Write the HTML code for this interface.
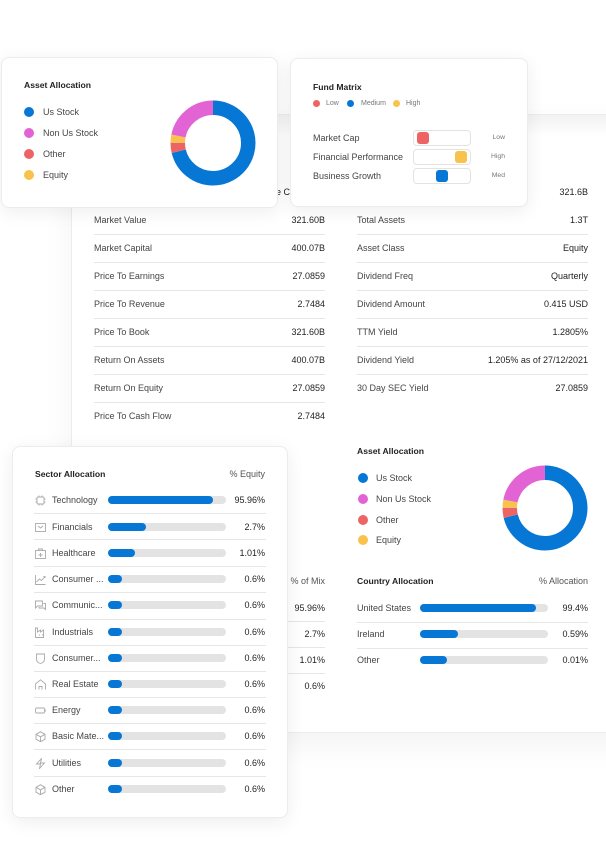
<!DOCTYPE html>
<html><head><meta charset="utf-8">
<style>
*{margin:0;padding:0;box-sizing:border-box}
html,body{width:606px;height:867px;background:#fff;overflow:hidden}
body{position:relative;font-family:"Liberation Sans",Arial,sans-serif;color:#3c3c3c}
.a{position:absolute}
.t{position:absolute;white-space:nowrap;line-height:12px;font-size:9px;color:#454545}
.v{position:absolute;white-space:nowrap;line-height:12px;font-size:9px;color:#1f1f1f;text-align:right}
.h{position:absolute;white-space:nowrap;line-height:12px;font-size:8.6px;font-weight:bold;color:#222}
.card{position:absolute;background:#fff;border:1px solid #ececec;border-radius:8px;box-shadow:0 4px 18px rgba(0,0,0,0.07)}
.ln{position:absolute;height:1px;background:#e6e6e6}
.dot{position:absolute;width:10px;height:10px;border-radius:50%}
.bar{position:absolute;height:8px;border-radius:4px;background:#e3e3e3}
.fill{position:absolute;left:0;top:0;height:8px;border-radius:4px;background:#0777d5}
.ic{position:absolute;width:11px;height:11px}
</style></head><body>

<!-- background card -->
<div class="a" style="left:71px;top:114px;width:560px;height:619px;background:linear-gradient(#f2f2f2,#fff 22px);border:1px solid #ececec;box-shadow:0 12px 30px rgba(0,0,0,0.05)"></div>

<!-- left column -->
<div class="v" style="right:316px;top:186px">Share Price C</div>
<div class="t" style="left:94px;top:214px">Market Value</div><div class="v" style="right:281px;top:214px">321.60B</div>
<div class="ln" style="left:94px;width:231px;top:234px"></div>
<div class="t" style="left:94px;top:242px">Market Capital</div><div class="v" style="right:281px;top:242px">400.07B</div>
<div class="ln" style="left:94px;width:231px;top:262px"></div>
<div class="t" style="left:94px;top:270px">Price To Earnings</div><div class="v" style="right:281px;top:270px">27.0859</div>
<div class="ln" style="left:94px;width:231px;top:290px"></div>
<div class="t" style="left:94px;top:298px">Price To Revenue</div><div class="v" style="right:281px;top:298px">2.7484</div>
<div class="ln" style="left:94px;width:231px;top:318px"></div>
<div class="t" style="left:94px;top:326px">Price To Book</div><div class="v" style="right:281px;top:326px">321.60B</div>
<div class="ln" style="left:94px;width:231px;top:346px"></div>
<div class="t" style="left:94px;top:354px">Return On Assets</div><div class="v" style="right:281px;top:354px">400.07B</div>
<div class="ln" style="left:94px;width:231px;top:374px"></div>
<div class="t" style="left:94px;top:382px">Return On Equity</div><div class="v" style="right:281px;top:382px">27.0859</div>
<div class="ln" style="left:94px;width:231px;top:402px"></div>
<div class="t" style="left:94px;top:410px">Price To Cash Flow</div><div class="v" style="right:281px;top:410px">2.7484</div>

<!-- right column -->
<div class="t" style="left:357px;top:186px">Net Assets</div><div class="v" style="right:18px;top:186px">321.6B</div>
<div class="t" style="left:357px;top:214px">Total Assets</div><div class="v" style="right:18px;top:214px">1.3T</div>
<div class="ln" style="left:357px;width:231px;top:234px"></div>
<div class="t" style="left:357px;top:242px">Asset Class</div><div class="v" style="right:18px;top:242px">Equity</div>
<div class="ln" style="left:357px;width:231px;top:262px"></div>
<div class="t" style="left:357px;top:270px">Dividend Freq</div><div class="v" style="right:18px;top:270px">Quarterly</div>
<div class="ln" style="left:357px;width:231px;top:290px"></div>
<div class="t" style="left:357px;top:298px">Dividend Amount</div><div class="v" style="right:18px;top:298px">0.415 USD</div>
<div class="ln" style="left:357px;width:231px;top:318px"></div>
<div class="t" style="left:357px;top:326px">TTM Yield</div><div class="v" style="right:18px;top:326px">1.2805%</div>
<div class="ln" style="left:357px;width:231px;top:346px"></div>
<div class="t" style="left:357px;top:354px">Dividend Yield</div><div class="v" style="right:18px;top:354px">1.205% as of 27/12/2021</div>
<div class="ln" style="left:357px;width:231px;top:374px"></div>
<div class="t" style="left:357px;top:382px">30 Day SEC Yield</div><div class="v" style="right:18px;top:382px">27.0859</div>

<!-- asset allocation 2 -->
<div class="h" style="left:357px;top:445px">Asset Allocation</div>
<div class="dot" style="left:358px;top:473px;background:#0777d5"></div><div class="t" style="left:376px;top:472px">Us Stock</div>
<div class="dot" style="left:358px;top:494px;background:#e263d3"></div><div class="t" style="left:376px;top:493px">Non Us Stock</div>
<div class="dot" style="left:358px;top:515px;background:#ec6464"></div><div class="t" style="left:376px;top:514px">Other</div>
<div class="dot" style="left:358px;top:535px;background:#f8c24c"></div><div class="t" style="left:376px;top:534px">Equity</div>
<svg class="a" style="left:500px;top:463px" width="90" height="90" viewBox="0 0 90 90">
<g transform="rotate(-90 45 45)" fill="none" stroke-width="14.5">
<circle cx="45" cy="45" r="35.25" stroke="#0777d5" stroke-dasharray="157.5 221.5"/>
<circle cx="45" cy="45" r="35.25" stroke="#ec6464" stroke-dasharray="8.6 221.5" stroke-dashoffset="-157.5"/>
<circle cx="45" cy="45" r="35.25" stroke="#f8c24c" stroke-dasharray="6.8 221.5" stroke-dashoffset="-166.1"/>
<circle cx="45" cy="45" r="35.25" stroke="#e263d3" stroke-dasharray="48.6 221.5" stroke-dashoffset="-172.9"/>
</g></svg>

<!-- % of mix -->
<div class="v" style="right:281px;top:575px;color:#555">% of Mix</div>
<div class="v" style="right:281px;top:602px">95.96%</div>
<div class="ln" style="left:94px;width:231px;top:621px"></div>
<div class="v" style="right:281px;top:628px">2.7%</div>
<div class="ln" style="left:94px;width:231px;top:647px"></div>
<div class="v" style="right:281px;top:654px">1.01%</div>
<div class="ln" style="left:94px;width:231px;top:673px"></div>
<div class="v" style="right:281px;top:680px">0.6%</div>

<!-- country allocation -->
<div class="h" style="left:357px;top:575px">Country Allocation</div>
<div class="v" style="right:18px;top:575px;color:#555">% Allocation</div>
<div class="t" style="left:357px;top:602px">United States</div>
<div class="bar" style="left:420px;top:604px;width:128px"><div class="fill" style="width:116px"></div></div>
<div class="v" style="right:18px;top:602px">99.4%</div>
<div class="ln" style="left:357px;width:231px;top:622px"></div>
<div class="t" style="left:357px;top:628px">Ireland</div>
<div class="bar" style="left:420px;top:630px;width:128px"><div class="fill" style="width:38px"></div></div>
<div class="v" style="right:18px;top:628px">0.59%</div>
<div class="ln" style="left:357px;width:231px;top:648px"></div>
<div class="t" style="left:357px;top:654px">Other</div>
<div class="bar" style="left:420px;top:656px;width:128px"><div class="fill" style="width:27px"></div></div>
<div class="v" style="right:18px;top:654px">0.01%</div>

<!-- Card 1 -->
<div class="card" style="left:1px;top:57px;width:277px;height:151px"></div>
<div class="h" style="left:24px;top:79px">Asset Allocation</div>
<div class="dot" style="left:24px;top:107px;background:#0777d5"></div><div class="t" style="left:43px;top:106px">Us Stock</div>
<div class="dot" style="left:24px;top:128px;background:#e263d3"></div><div class="t" style="left:43px;top:127px">Non Us Stock</div>
<div class="dot" style="left:24px;top:149px;background:#ec6464"></div><div class="t" style="left:43px;top:148px">Other</div>
<div class="dot" style="left:24px;top:170px;background:#f8c24c"></div><div class="t" style="left:43px;top:169px">Equity</div>
<svg class="a" style="left:168px;top:97.5px" width="90" height="90" viewBox="0 0 90 90">
<g transform="rotate(-90 45 45)" fill="none" stroke-width="14.5">
<circle cx="45" cy="45" r="35.25" stroke="#0777d5" stroke-dasharray="157.5 221.5"/>
<circle cx="45" cy="45" r="35.25" stroke="#ec6464" stroke-dasharray="8.6 221.5" stroke-dashoffset="-157.5"/>
<circle cx="45" cy="45" r="35.25" stroke="#f8c24c" stroke-dasharray="6.8 221.5" stroke-dashoffset="-166.1"/>
<circle cx="45" cy="45" r="35.25" stroke="#e263d3" stroke-dasharray="48.6 221.5" stroke-dashoffset="-172.9"/>
</g></svg>

<!-- Card 2 -->
<div class="card" style="left:290px;top:58px;width:238px;height:149px"></div>
<div class="h" style="left:313px;top:81px">Fund Matrix</div>
<div class="a" style="left:313px;top:100px;width:7px;height:7px;border-radius:50%;background:#ec6464"></div>
<div class="t" style="left:326px;top:98px;font-size:7px;color:#777">Low</div>
<div class="a" style="left:347px;top:100px;width:7px;height:7px;border-radius:50%;background:#0777d5"></div>
<div class="t" style="left:361px;top:98px;font-size:7px;color:#777">Medium</div>
<div class="a" style="left:393px;top:100px;width:7px;height:7px;border-radius:50%;background:#f8c24c"></div>
<div class="t" style="left:406px;top:98px;font-size:7px;color:#777">High</div>
<div class="t" style="left:313px;top:132px">Market Cap</div>
<div class="t" style="left:313px;top:151px">Financial Performance</div>
<div class="t" style="left:313px;top:170px">Business Growth</div>
<div class="a" style="left:413px;top:130px;width:58px;height:16px;border:1px solid #e3e3e3;border-radius:4px"></div>
<div class="a" style="left:417px;top:132px;width:12px;height:12px;border-radius:3px;background:#ec6464"></div>
<div class="a" style="left:413px;top:149px;width:58px;height:16px;border:1px solid #e3e3e3;border-radius:4px"></div>
<div class="a" style="left:455px;top:151px;width:12px;height:12px;border-radius:3px;background:#f8c24c"></div>
<div class="a" style="left:413px;top:168px;width:58px;height:16px;border:1px solid #e3e3e3;border-radius:4px"></div>
<div class="a" style="left:436px;top:170px;width:12px;height:12px;border-radius:3px;background:#0777d5"></div>
<div class="v" style="right:101px;top:132px;font-size:6.8px;color:#777">Low</div>
<div class="v" style="right:101px;top:151px;font-size:6.8px;color:#777">High</div>
<div class="v" style="right:101px;top:170px;font-size:6.8px;color:#777">Med</div>

<!-- Card 3 sector -->
<div class="card" style="left:12px;top:446px;width:276px;height:372px"></div>
<div class="h" style="left:35px;top:468px">Sector Allocation</div>
<div class="v" style="right:341px;top:468px;color:#555">% Equity</div>

<!-- rows -->
<svg class="ic" style="left:35px;top:494.5px" viewBox="0 0 11 11" fill="none" stroke="#aaa" stroke-width="0.9"><rect x="2" y="2" width="7" height="7" rx="1"/><path d="M4 0.5v1.5M7 0.5v1.5M4 9v1.5M7 9v1.5M0.5 4h1.5M0.5 7h1.5M9 4h1.5M9 7h1.5"/></svg>
<div class="t" style="left:52px;top:494px">Technology</div>
<div class="bar" style="left:108px;top:496px;width:118px"><div class="fill" style="width:105px"></div></div>
<div class="v" style="right:341px;top:494px">95.96%</div>
<div class="ln" style="left:34px;width:232px;top:513px"></div>

<svg class="ic" style="left:35px;top:521.5px" viewBox="0 0 11 11" fill="none" stroke="#aaa" stroke-width="0.9"><rect x="0.5" y="1.5" width="10" height="8"/><path d="M3 4l2.5 2 2.5-2"/></svg>
<div class="t" style="left:52px;top:521px">Financials</div>
<div class="bar" style="left:108px;top:523px;width:118px"><div class="fill" style="width:38px"></div></div>
<div class="v" style="right:341px;top:521px">2.7%</div>
<div class="ln" style="left:34px;width:232px;top:539px"></div>

<svg class="ic" style="left:35px;top:547.5px" viewBox="0 0 11 11" fill="none" stroke="#aaa" stroke-width="0.9"><rect x="0.5" y="2.5" width="10" height="8"/><path d="M3.5 2.5V1h4v1.5M5.5 5v4M3.5 7h4"/></svg>
<div class="t" style="left:52px;top:547px">Healthcare</div>
<div class="bar" style="left:108px;top:549px;width:118px"><div class="fill" style="width:27px"></div></div>
<div class="v" style="right:341px;top:547px">1.01%</div>
<div class="ln" style="left:34px;width:232px;top:566px"></div>

<svg class="ic" style="left:35px;top:573.5px" viewBox="0 0 11 11" fill="none" stroke="#aaa" stroke-width="0.9"><path d="M0.5 1v9.5h10M1.5 8l3-3 2 1.5 3.5-4M8.5 2.5h1.5V4"/></svg>
<div class="t" style="left:52px;top:573px">Consumer ...</div>
<div class="bar" style="left:108px;top:575px;width:118px"><div class="fill" style="width:14px"></div></div>
<div class="v" style="right:341px;top:573px">0.6%</div>
<div class="ln" style="left:34px;width:232px;top:592px"></div>

<svg class="ic" style="left:35px;top:599.5px" viewBox="0 0 11 11" fill="none" stroke="#aaa" stroke-width="0.9"><path d="M0.5 1h7v5h-5l-2 2zM8.5 3.5h2v6l-1.5-1.5h-5V7"/></svg>
<div class="t" style="left:52px;top:599px">Communic...</div>
<div class="bar" style="left:108px;top:601px;width:118px"><div class="fill" style="width:14px"></div></div>
<div class="v" style="right:341px;top:599px">0.6%</div>
<div class="ln" style="left:34px;width:232px;top:619px"></div>

<svg class="ic" style="left:35px;top:626.5px" viewBox="0 0 11 11" fill="none" stroke="#aaa" stroke-width="0.9"><path d="M0.5 10.5V1h2v4l3-2v2l3-2v7.5zM4 8h1M7 8h1"/></svg>
<div class="t" style="left:52px;top:626px">Industrials</div>
<div class="bar" style="left:108px;top:628px;width:118px"><div class="fill" style="width:14px"></div></div>
<div class="v" style="right:341px;top:626px">0.6%</div>
<div class="ln" style="left:34px;width:232px;top:645px"></div>

<svg class="ic" style="left:35px;top:652.5px" viewBox="0 0 11 11" fill="none" stroke="#aaa" stroke-width="0.9"><path d="M1.5 1h8v5c0 2.5-2 4-4 4.5-2-.5-4-2-4-4.5z"/></svg>
<div class="t" style="left:52px;top:652px">Consumer...</div>
<div class="bar" style="left:108px;top:654px;width:118px"><div class="fill" style="width:14px"></div></div>
<div class="v" style="right:341px;top:652px">0.6%</div>
<div class="ln" style="left:34px;width:232px;top:671px"></div>

<svg class="ic" style="left:35px;top:678.5px" viewBox="0 0 11 11" fill="none" stroke="#aaa" stroke-width="0.9"><path d="M0.5 10.5V5L5.5 0.8 10.5 5v5.5M4 10.5V7.5h3v3"/></svg>
<div class="t" style="left:52px;top:678px">Real Estate</div>
<div class="bar" style="left:108px;top:680px;width:118px"><div class="fill" style="width:14px"></div></div>
<div class="v" style="right:341px;top:678px">0.6%</div>
<div class="ln" style="left:34px;width:232px;top:697px"></div>

<svg class="ic" style="left:35px;top:704.5px" viewBox="0 0 11 11" fill="none" stroke="#aaa" stroke-width="0.9"><rect x="0.5" y="3" width="9" height="5" rx="1"/><path d="M10.3 4.5v2"/></svg>
<div class="t" style="left:52px;top:704px">Energy</div>
<div class="bar" style="left:108px;top:706px;width:118px"><div class="fill" style="width:14px"></div></div>
<div class="v" style="right:341px;top:704px">0.6%</div>
<div class="ln" style="left:34px;width:232px;top:723px"></div>

<svg class="ic" style="left:35px;top:730.5px" viewBox="0 0 11 11" fill="none" stroke="#aaa" stroke-width="0.9"><path d="M5.5 0.8l4.5 2.5v4.9l-4.5 2.5-4.5-2.5V3.3zM1 3.3l4.5 2.5 4.5-2.5M5.5 5.8v4.9"/></svg>
<div class="t" style="left:52px;top:730px">Basic Mate...</div>
<div class="bar" style="left:108px;top:732px;width:118px"><div class="fill" style="width:14px"></div></div>
<div class="v" style="right:341px;top:730px">0.6%</div>
<div class="ln" style="left:34px;width:232px;top:749px"></div>

<svg class="ic" style="left:35px;top:757.5px" viewBox="0 0 11 11" fill="none" stroke="#aaa" stroke-width="0.9"><path d="M6.5 0.5L1.5 6h4l-1 4.5L9.5 5h-4z"/></svg>
<div class="t" style="left:52px;top:757px">Utilities</div>
<div class="bar" style="left:108px;top:759px;width:118px"><div class="fill" style="width:14px"></div></div>
<div class="v" style="right:341px;top:757px">0.6%</div>
<div class="ln" style="left:34px;width:232px;top:776px"></div>

<svg class="ic" style="left:35px;top:783.5px" viewBox="0 0 11 11" fill="none" stroke="#aaa" stroke-width="0.9"><path d="M5.5 0.8l4.5 2.5v4.9l-4.5 2.5-4.5-2.5V3.3zM1 3.3l4.5 2.5 4.5-2.5M5.5 5.8v4.9"/></svg>
<div class="t" style="left:52px;top:783px">Other</div>
<div class="bar" style="left:108px;top:785px;width:118px"><div class="fill" style="width:14px"></div></div>
<div class="v" style="right:341px;top:783px">0.6%</div>

</body></html>
